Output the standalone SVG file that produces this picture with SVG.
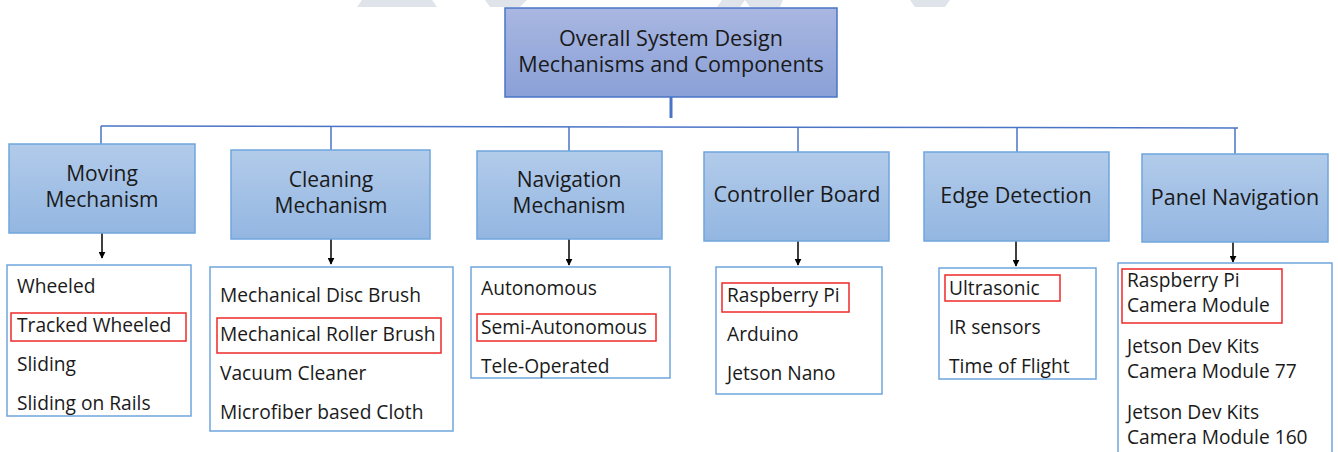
<svg xmlns="http://www.w3.org/2000/svg" width="1338" height="452" viewBox="0 0 1338 452">
<defs>
<linearGradient id="gTop" x1="0" y1="0" x2="0" y2="1">
<stop offset="0" stop-color="#a9b7e1"/><stop offset="1" stop-color="#8aa0d7"/>
</linearGradient>
<linearGradient id="gHead" x1="0" y1="0" x2="0" y2="1">
<stop offset="0" stop-color="#b2cbea"/><stop offset="1" stop-color="#93b6e1"/>
</linearGradient>
<marker id="arr" viewBox="0 0 10 10" refX="9" refY="5" markerWidth="7" markerHeight="7" markerUnits="userSpaceOnUse" orient="auto">
<path d="M0,0 L10,5 L0,10 z" fill="#000"/>
</marker>
<style>
.top{fill:url(#gTop);stroke:#4a74c6;stroke-width:1.5}
.head{fill:url(#gHead);stroke:#6fa6dd;stroke-width:1.5}
.list{fill:#fff;stroke:#6fa6dd;stroke-width:1.5}
.hl{fill:none;stroke:#ee2a2a;stroke-width:1.5}
.ht{font-family:"Open Sans","Noto Sans",sans-serif;font-size:21.5px;fill:#1a1a1a;text-anchor:middle}
.h2{font-size:21px}
.it{font-family:"Open Sans","Noto Sans",sans-serif;font-size:19.2px;fill:#1a1a1a}
.blue{stroke:#4a74c6;stroke-width:1.5;fill:none}
.blk{stroke:#000;stroke-width:1.5;fill:none;marker-end:url(#arr)}
.wm{fill:#dfe4ea}
</style>
</defs>
<rect width="1338" height="452" fill="#fff"/>
<g id="watermark">
<polygon class="wm" points="357,7 403,7 398,0 362,0"/>
<polygon class="wm" points="376,7 437,7 432,0 380,0"/>
<polygon class="wm" points="485,0 527,0 520,7 490,7"/>
<polygon class="wm" points="717,7 740,7 745,0 722,0"/>
<polygon class="wm" points="745,0 783,0 780,7 750,7"/>
<polygon class="wm" points="910,0 950,0 945,7 915,7"/>
</g>
<g id="connectors">
<line class="blue" x1="671" y1="97" x2="671" y2="118" style="stroke-width:3"/>
<line class="blue" x1="101" y1="126" x2="1238" y2="128"/>
<line class="blue" x1="101" y1="126" x2="101" y2="144"/>
<line class="blue" x1="331" y1="126" x2="331" y2="150"/>
<line class="blue" x1="569" y1="127" x2="569" y2="151"/>
<line class="blue" x1="798" y1="127" x2="798" y2="152"/>
<line class="blue" x1="1017" y1="128" x2="1017" y2="152"/>
<line class="blue" x1="1235" y1="128" x2="1235" y2="154"/>
<line class="blk" x1="102" y1="233" x2="102" y2="258"/>
<line class="blk" x1="331" y1="239" x2="331" y2="264"/>
<line class="blk" x1="569" y1="239" x2="569" y2="265"/>
<line class="blk" x1="798" y1="241" x2="798" y2="265"/>
<line class="blk" x1="1016" y1="241" x2="1016" y2="266"/>
<line class="blk" x1="1233" y1="242" x2="1233" y2="262"/>
</g>
<g id="root">
<rect class="top" x="505" y="8" width="332" height="89"/>
<text class="ht" x="671" y="45.5" style="font-size:21.6px">Overall System Design</text>
<text class="ht" x="671" y="72" style="font-size:21.6px">Mechanisms and Components</text>
</g>
<g id="moving">
<rect class="head" x="9" y="144" width="186" height="89"/>
<text class="ht h2" x="102" y="181">Moving</text>
<text class="ht h2" x="102" y="207">Mechanism</text>
</g>
<g id="cleaning">
<rect class="head" x="231" y="150" width="199" height="89"/>
<text class="ht h2" x="331" y="187">Cleaning</text>
<text class="ht h2" x="331" y="213">Mechanism</text>
</g>
<g id="navigation">
<rect class="head" x="477" y="151" width="185" height="88"/>
<text class="ht h2" x="569" y="187">Navigation</text>
<text class="ht h2" x="569" y="213">Mechanism</text>
</g>
<g id="controller">
<rect class="head" x="704" y="152" width="185" height="89"/>
<text class="ht" x="797" y="202">Controller Board</text>
</g>
<g id="edge">
<rect class="head" x="924" y="152" width="185" height="89"/>
<text class="ht" x="1016" y="203">Edge Detection</text>
</g>
<g id="panel">
<rect class="head" x="1142" y="154" width="186" height="88"/>
<text class="ht" x="1235" y="205">Panel Navigation</text>
</g>
<g id="moving-list">
<rect class="list" x="7" y="265" width="184" height="151"/>
<rect class="hl" x="11" y="313" width="175" height="28"/>
<text class="it" x="17" y="293">Wheeled</text>
<text class="it" x="17" y="332">Tracked Wheeled</text>
<text class="it" x="17" y="371">Sliding</text>
<text class="it" x="17" y="410">Sliding on Rails</text>
</g>
<g id="cleaning-list">
<rect class="list" x="210" y="267" width="243" height="164"/>
<rect class="hl" x="217" y="318" width="224" height="35"/>
<text class="it" x="220" y="302">Mechanical Disc Brush</text>
<text class="it" x="220" y="341">Mechanical Roller Brush</text>
<text class="it" x="220" y="380">Vacuum Cleaner</text>
<text class="it" x="220" y="419">Microfiber based Cloth</text>
</g>
<g id="navigation-list">
<rect class="list" x="471" y="267" width="199" height="111"/>
<rect class="hl" x="477" y="314" width="179" height="27"/>
<text class="it" x="481" y="295">Autonomous</text>
<text class="it" x="481" y="334">Semi-Autonomous</text>
<text class="it" x="481" y="373">Tele-Operated</text>
</g>
<g id="controller-list">
<rect class="list" x="716" y="267" width="166" height="127"/>
<rect class="hl" x="722" y="283" width="127" height="29"/>
<text class="it" x="727" y="302">Raspberry Pi</text>
<text class="it" x="727" y="341">Arduino</text>
<text class="it" x="727" y="380">Jetson Nano</text>
</g>
<g id="edge-list">
<rect class="list" x="939" y="268" width="157" height="111"/>
<rect class="hl" x="945" y="275" width="115" height="26"/>
<text class="it" x="949" y="295">Ultrasonic</text>
<text class="it" x="949" y="334">IR sensors</text>
<text class="it" x="949" y="373">Time of Flight</text>
</g>
<g id="panel-list">
<rect class="list" x="1118" y="263" width="214" height="200"/>
<rect class="hl" x="1122" y="269" width="160" height="54"/>
<text class="it" x="1127" y="287">Raspberry Pi</text>
<text class="it" x="1127" y="312">Camera Module</text>
<text class="it" x="1127" y="353">Jetson Dev Kits</text>
<text class="it" x="1127" y="378">Camera Module 77</text>
<text class="it" x="1127" y="419">Jetson Dev Kits</text>
<text class="it" x="1127" y="444">Camera Module 160</text>
</g>
</svg>
